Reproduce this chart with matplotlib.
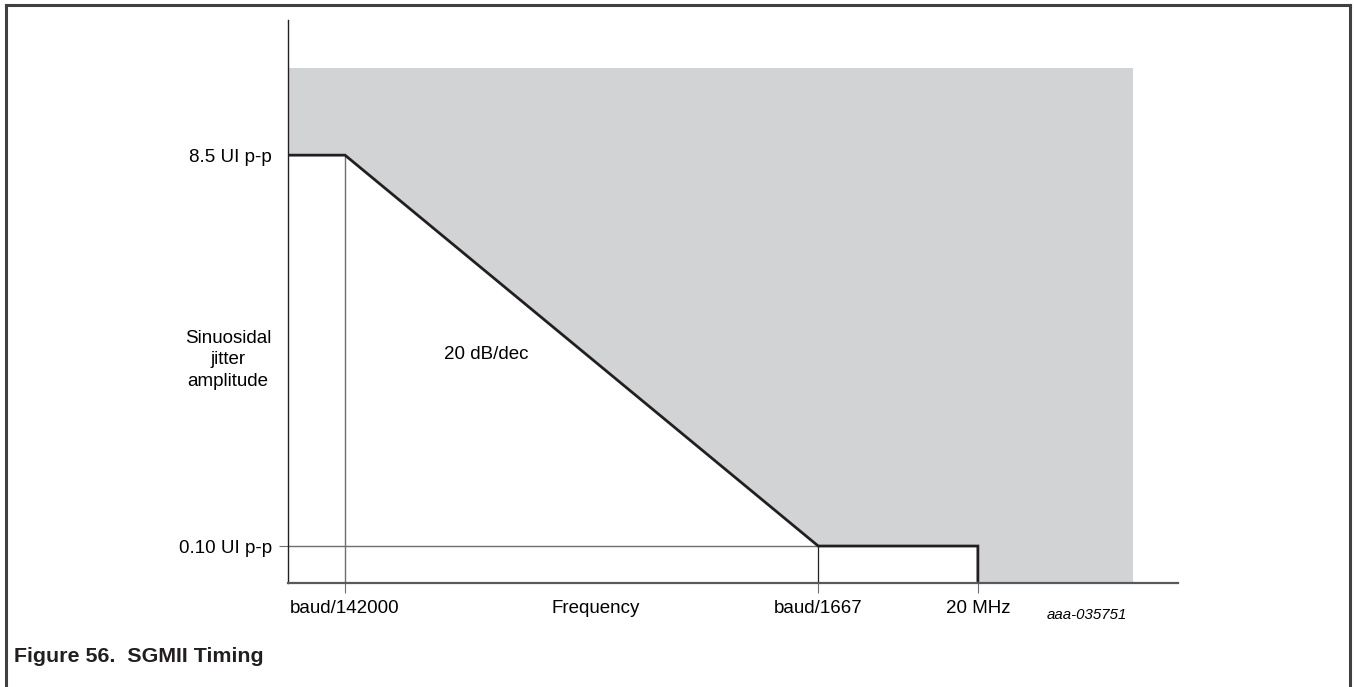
import matplotlib
matplotlib.use("Agg")
import matplotlib.pyplot as plt
from matplotlib.lines import Line2D
from matplotlib.ticker import NullLocator

plt.rcParams['font.family'] = ['Liberation Sans', 'DejaVu Sans']

# schematic frequency axis (arbitrary log-like units), amplitude in UI p-p
freq_pts = [0.0, 1.0, 9.3, 12.1]
mask_ui = [8.5, 8.5, 0.10, 0.10]
freq_ticks = [1.0, 9.3, 12.1]
freq_labels = ['baud/142000', 'baud/1667', '20 MHz']
amp_ticks = [0.10, 8.5]
amp_labels = ['0.10 UI p-p', '8.5 UI p-p']
shade_right = 14.82
shade_top = 22.9
x_max = 15.61
y_min, y_max = 0.0657, 39.5

W, H = 1354, 687
fig = plt.figure(figsize=(W / 100, H / 100), dpi=100)
ax = fig.add_axes([288 / W, 1 - 583 / H, (1178 - 288) / W, (583 - 20) / H])
ax.set_yscale('log')
ax.set_xlim(0, x_max)
ax.set_ylim(y_min, y_max)

grey = '#d1d3d4'
thin = '#6d6e71'
fs = 13.5

# shaded area, white region under the mask
ax.fill_between([0, shade_right], y_min, shade_top, color=grey, lw=0, zorder=1)
ax.fill_between(freq_pts, mask_ui, y_min, color='white', lw=0, zorder=2)

# guide lines
ax.plot([freq_ticks[0], freq_ticks[0]], [y_min, mask_ui[1]], color=thin, lw=1.0, zorder=3)
ax.plot([freq_ticks[1], freq_ticks[1]], [y_min, mask_ui[2]], color='#231f20', lw=0.9, zorder=3)
ax.plot([0, freq_pts[2]], [mask_ui[2], mask_ui[2]], color=thin, lw=1.0, zorder=3)

# mask line
ax.plot(freq_pts + [freq_pts[-1]], mask_ui + [y_min], color='#231f20', lw=2.0,
        solid_joinstyle='miter', solid_capstyle='butt', zorder=4, clip_on=False)

for s in ['top', 'right']:
    ax.spines[s].set_visible(False)
ax.spines['left'].set_color('#231f20')
ax.spines['left'].set_linewidth(1.0)
ax.spines['bottom'].set_color('#58595b')
ax.spines['bottom'].set_linewidth(1.6)
ax.spines['left'].set_zorder(5)
ax.spines['bottom'].set_zorder(5)

# x ticks (plus "Frequency" as an unmarked label)
ax.set_xticks(freq_ticks + [5.4])
ax.set_xticklabels(freq_labels + ['Frequency'])
ax.tick_params(axis='x', length=7.5, width=0.8, color=thin, pad=5, labelsize=fs)
ax.xaxis.get_major_ticks()[3].tick1line.set_visible(False)
ax.xaxis.set_minor_locator(NullLocator())

ax.yaxis.set_minor_locator(NullLocator())
ax.set_yticks(amp_ticks)
ax.set_yticklabels(amp_labels)
ax.tick_params(axis='y', length=6.5, width=0.8, color=thin, pad=5, labelsize=fs)
ax.yaxis.get_major_ticks()[1].tick1line.set_visible(False)

ax.set_ylabel('Sinuosidal\njitter\namplitude', rotation=0, ha='center', va='center',
              fontsize=fs, linespacing=1.33)
ax.yaxis.set_label_coords((228 - 288) / 890, (583 - 360) / 563)

ax.text(3.47, 0.88, '20 dB/dec', ha='center', va='center', fontsize=fs)

fig.text(1087 / W, 1 - 615 / H, 'aaa-035751', style='italic', ha='center', va='center',
         fontsize=10.8)
fig.text(14 / W, 1 - 657 / H, 'Figure 56.  SGMII Timing', fontweight='bold', ha='left',
         va='center', fontsize=15.4, color='#231f20')

# outer frame
bc = '#404040'
fig.add_artist(Line2D([6 / W, 6 / W], [0, 1 - 5 / H], color=bc, lw=2.2))
fig.add_artist(Line2D([6 / W, 1350 / W], [1 - 5 / H, 1 - 5 / H], color=bc, lw=2.2))
fig.add_artist(Line2D([1350 / W, 1350 / W], [0, 1 - 5 / H], color=bc, lw=2.2))

fig.savefig('out.png', dpi=100)
